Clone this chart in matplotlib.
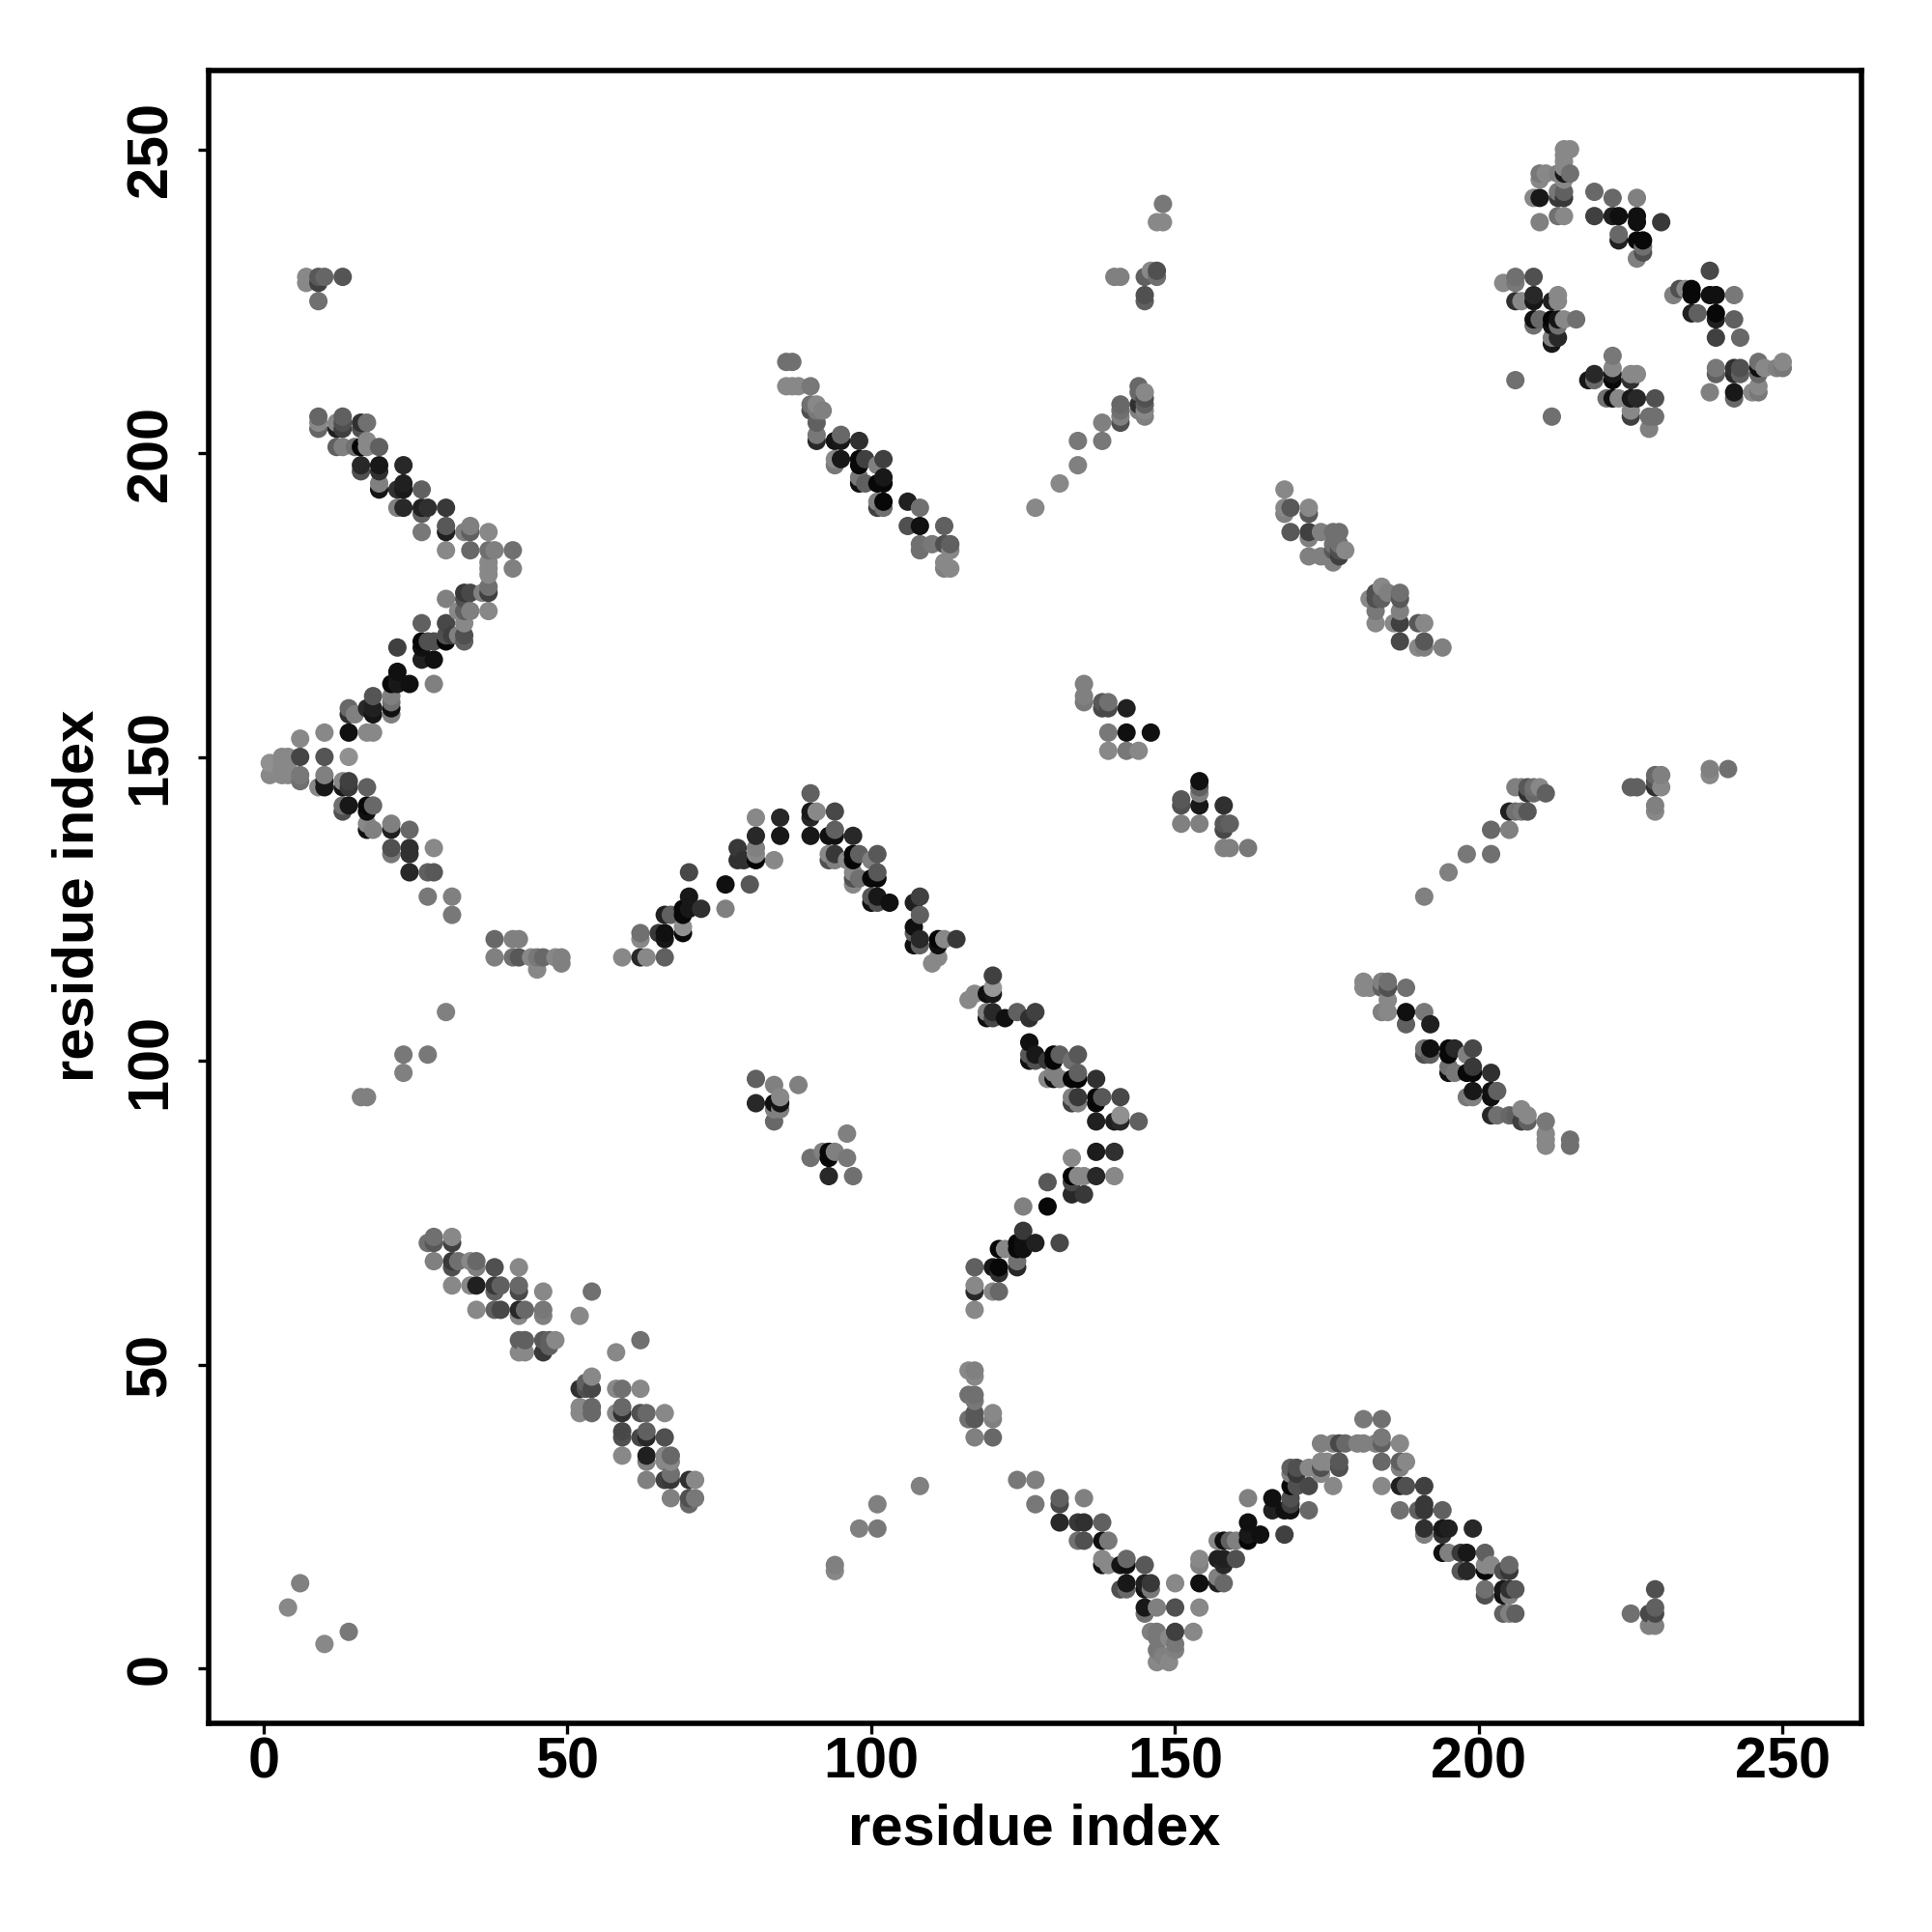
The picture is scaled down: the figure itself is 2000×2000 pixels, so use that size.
# -*- coding: utf-8 -*-
"""
Residue contact map, points shaded by contact strength
"""
import numpy as np
import matplotlib
matplotlib.use("Agg")
import matplotlib.pyplot as plt

# (residue i, residue j, grey level 0-255)
top_left = [
    (7,229,0x88),(7,228,0x88),(9,228,0x40),(9,229,0x58),(10,229,0x66),(13,229,0x55),(9,225,0x70),
    (9,206,0x66),(9,205,0x88),(9,204,0x66),(12,205,0x88),(12,204,0x20),(13,206,0x60),(13,205,0x50),(13,204,0x40),
    (16,205,0x30),(16,204,0x50),(17,205,0x70),(12,201,0x60),(13,201,0x80),(15,201,0x70),(16,201,0x05),
    (17,202,0x88),(17,201,0x88),(19,201,0x60),(16,198,0x28),(16,197,0x50),(19,198,0x18),(19,197,0x30),(23,198,0x28),
    (19,195,0x80),(19,194,0x15),(23,195,0x20),(23,194,0x1a),(22,194,0x30),(26,194,0x60),
    (22,191,0x80),(23,191,0x28),(26,191,0x20),(27,191,0x30),(26,190,0x60),(30,191,0x38),
    (26,187,0x78),(30,188,0x58),(30,187,0x20),(30,184,0x88),(33,187,0x80),(34,188,0x80),(34,187,0x60),(37,187,0x88),
    (34,184,0x68),(37,184,0x70),(38,184,0x80),(41,184,0x70),(41,181,0x80),(37,182,0x88),(37,181,0x88),(37,180,0x88),
    (37,178,0x70),(37,177,0x40),(37,174,0x88),(30,176,0x80),(33,177,0x38),(34,177,0x48),(33,176,0x50),(36,177,0x80),
    (34,174,0x80),(33,174,0x60),(32,174,0x88),
]
left_arm = [
    (26,172,0x60),(30,172,0x48),(33,172,0x88),(33,170,0x50),(30,170,0x50),(31,170,0x40),(33,169,0x60),(30,169,0x05),(32,170,0x80),
    (26,169,0x08),(26,168,0x10),(27,169,0x50),(28,169,0x50),(22,168,0x40),(26,166,0x20),(28,166,0x10),
    (22,164,0x10),(22,163,0x18),(21,162,0x08),(22,162,0x18),(24,162,0x10),(28,162,0x80),
    (18,160,0x55),(21,160,0x80),(21,159,0x70),(21,158,0x10),(21,157,0x80),(14,158,0x68),(14,157,0x30),(15,157,0x80),
    (17,158,0x28),(18,158,0x20),(18,157,0x15),(14,154,0x10),(10,154,0x88),(6,153,0x88),(17,154,0x88),(18,154,0x88),
    (6,150,0x45),(10,150,0x55),(14,150,0x90),(1,149,0x90),(1,147,0x88),(3,150,0x88),(4,150,0x88),(3,147,0x88),(4,147,0x88),
    (3,149,0x88),(4,149,0x88),(3,148,0x88),(4,148,0x88),(6,147,0x78),(6,146,0x70),
    (10,147,0x80),(10,146,0x18),(10,145,0x18),(9,145,0x88),(13,146,0x88),(14,146,0x40),(14,145,0x38),(13,145,0x18),(17,145,0x60),
    (13,142,0x70),(14,142,0x18),(13,141,0x50),(17,142,0x08),(18,142,0x68),(17,141,0x10),
    (17,139,0x88),(17,138,0x10),(18,138,0x80),(21,139,0x80),(21,138,0x20),(24,138,0x68),
    (21,135,0x50),(21,134,0x78),(24,135,0x30),(24,134,0x30),(28,135,0x88),(24,131,0x28),(27,131,0x60),(28,131,0x58),
    (27,127,0x78),(31,127,0x80),(31,124,0x78),
    (38,120,0x68),(41,120,0x80),(42,120,0x80),(38,117,0x80),(41,117,0x70),(42,117,0x58),(44,117,0x88),(45,117,0x78),(46,117,0x68),
    (45,115,0x88),(48,117,0x88),(49,117,0x80),(49,116,0x80),
    (30,108,0x80),(27,101,0x78),(23,101,0x78),(23,98,0x80),(16,94,0x80),(17,94,0x80),
]
corner_points = [(4,10,0x88),(6,14,0x80),(10,4,0x88),(14,6,0x78)]
peak_left = [
    (59,117,0x88),(62,117,0x28),(63,117,0x88),(66,117,0x60),(62,121,0x70),(62,120,0x88),(65,121,0x38),(66,121,0x10),(66,120,0x18),
    (69,121,0x08),(69,122,0x90),(66,124,0x20),(67,124,0x60),(69,125,0x08),(69,124,0x08),(70,125,0x18),(70,127,0x18),(72,125,0x30),
    (70,131,0x48),(76,129,0x10),(80,129,0x58),(76,125,0x80),(78,135,0x38),(78,133,0x30),(79,133,0x30),(81,133,0x05),(81,134,0x88),
    (81,135,0x80),(81,137,0x28),(81,140,0x88),(84,133,0x88),(85,137,0x18),(85,140,0x28),
]
peak_right = [
    (90,144,0x60),(90,141,0x18),(90,140,0x28),(91,141,0x88),(90,137,0x18),(94,141,0x48),(93,137,0x10),(94,137,0x10),(94,138,0x60),(97,137,0x28),
    (93,134,0x88),(93,133,0x50),(94,134,0x38),(94,133,0x80),(97,134,0x08),(97,133,0x05),(98,134,0x60),(96,133,0x88),(101,134,0x58),(100,133,0x80),
    (97,131,0x88),(97,130,0x50),(97,129,0x88),(98,130,0x70),(100,130,0x08),(101,131,0x58),(101,130,0x08),
    (100,127,0x58),(100,126,0x10),(101,127,0x18),(101,126,0x50),(103,126,0x10),
    (107,126,0x20),(108,127,0x40),(108,124,0x60),(107,122,0x10),(107,121,0x60),(107,119,0x10),(108,120,0x28),(108,119,0x60),
    (111,120,0x05),(111,119,0x10),(112,120,0x88),(114,120,0x38),(111,117,0x88),(110,116,0x88),
]
small_cluster = [
    (81,97,0x60),(84,96,0x80),(88,96,0x80),(81,93,0x28),(84,93,0x10),(85,93,0x15),(85,94,0x88),(84,92,0x80),(85,92,0x80),(84,90,0x68),
    (96,88,0x80),(90,84,0x70),(92,85,0x80),(93,85,0x08),(93,84,0x08),(94,85,0x80),(96,84,0x78),(93,81,0x28),(97,81,0x70),
]
middle_down = [
    (120,114,0x40),(120,112,0x98),(119,111,0x10),(120,111,0x18),(117,111,0x88),(116,110,0x88),
    (119,108,0x80),(120,108,0x28),(119,107,0x10),(120,107,0x48),(122,107,0x10),(124,108,0x60),(126,107,0x30),(127,108,0x40),
    (126,103,0x10),(126,100,0x10),(126,101,0x58),(127,101,0x18),(127,100,0x50),(129,100,0x38),(130,101,0x05),(130,100,0x05),
    (131,101,0x60),(134,101,0x58),(133,100,0x70),(129,97,0x88),(130,97,0x10),(130,98,0x80),(131,97,0x80),
    (133,97,0x05),(134,97,0x05),(134,98,0x60),(137,97,0x30),(133,94,0x80),(133,93,0x40),(134,94,0x38),(134,93,0x80),
    (137,94,0x08),(137,93,0x08),(138,94,0x58),(141,94,0x48),(137,90,0x20),(140,90,0x20),(141,90,0x28),(141,91,0x90),(144,90,0x60),
]
middle_up = [
    (137,85,0x1c),(140,85,0x30),(133,84,0x88),(133,81,0x02),(134,81,0x88),(135,81,0x88),(137,81,0x28),(140,81,0x88),(133,80,0x48),
    (133,78,0x28),(135,78,0x38),(129,80,0x58),(129,76,0x08),(125,76,0x80),(125,72,0x38),(125,70,0x10),(124,70,0x08),(124,69,0x08),
    (125,69,0x10),(127,70,0x20),(131,70,0x48),(121,69,0x08),(122,69,0x88),(117,66,0x60),(120,66,0x18),(121,66,0x08),(121,65,0x30),
    (124,67,0x70),(124,66,0x28),(117,63,0x88),(117,62,0x28),(120,62,0x88),(121,62,0x68),(117,59,0x88),
]
lower_left = [
    (27,70,0x70),(28,71,0x70),(28,70,0x58),(31,71,0x88),(31,70,0x40),(28,67,0x80),(31,67,0x38),(31,66,0x50),(32,67,0x70),(34,67,0x88),
    (35,67,0x68),(35,66,0x80),(38,66,0x50),(42,66,0x88),(31,63,0x88),(34,63,0x88),(35,63,0x20),(38,63,0x38),(38,62,0x60),(39,63,0x60),
    (42,63,0x68),(42,62,0x48),(46,62,0x88),(54,62,0x70),(35,59,0x88),(38,59,0x60),(39,59,0x48),(42,59,0x28),(42,58,0x88),(43,59,0x68),
    (46,59,0x78),(46,58,0x80),(52,58,0x88),(42,54,0x60),(43,54,0x60),(42,52,0x88),(43,52,0x88),(46,54,0x58),(47,54,0x60),(46,52,0x38),
    (47,53,0x60),(48,54,0x88),(62,54,0x70),(58,52,0x88),(52,46,0x30),(53,46,0x50),(54,48,0x88),(54,46,0x48),(53,47,0x60),(52,42,0x88),
    (52,43,0x88),(54,43,0x68),(54,42,0x68),(58,46,0x88),(59,46,0x70),(62,46,0x88),(58,42,0x88),(59,43,0x68),(59,42,0x30),(62,42,0x50),
    (63,42,0x68),(66,42,0x88),(59,39,0x48),(59,38,0x50),(62,38,0x48),(63,39,0x60),(63,38,0x28),(66,38,0x50),(59,35,0x88),(63,35,0x20),
    (63,34,0x80),(66,35,0x88),(66,34,0x88),(67,35,0x68),(67,34,0x88),(63,31,0x80),(66,31,0x40),(67,32,0x70),(67,31,0x38),(70,31,0x30),
    (71,31,0x88),(67,28,0x80),(70,28,0x50),(71,28,0x78),(70,27,0x68),
]
bottom_sparse = [(94,17,0x80),(94,16,0x88),(98,23,0x80),(101,23,0x78),(101,27,0x80),(108,30,0x80)]
bottom_valley = [
    (116,49,0x88),(117,49,0x80),(117,48,0x88),(116,45,0x70),(117,45,0x70),(117,44,0x78),(117,42,0x58),(117,41,0x58),(116,41,0x70),
    (120,42,0x88),(120,41,0x80),(117,38,0x80),(120,38,0x68),(124,31,0x78),(127,31,0x80),(127,27,0x78),(131,28,0x60),(131,27,0x48),(135,28,0x80),
    (131,24,0x28),(134,24,0x38),(135,24,0x30),(138,24,0x60),(134,21,0x70),(135,21,0x50),(138,21,0x10),(139,21,0x78),
    (138,18,0x88),(138,17,0x10),(139,17,0x88),(141,17,0x15),(142,18,0x68),(142,17,0x10),(145,17,0x58),
    (141,13,0x50),(142,14,0x18),(142,13,0x68),(145,14,0x20),(146,14,0x38),(145,13,0x10),(146,13,0x78),(150,14,0x88),
    (145,10,0x18),(147,10,0x80),(145,9,0x70),(150,10,0x50),(154,10,0x88),(146,6,0x80),(147,6,0x78),(149,5,0x88),(150,6,0x40),(153,6,0x88),
    (147,5,0x78),(147,3,0x78),(150,4,0x78),(150,3,0x80),(147,1,0x88),(149,1,0x88),(148,2,0x80),
    (154,18,0x88),(154,17,0x80),(154,14,0x10),(157,18,0x20),(158,18,0x20),(158,17,0x28),(160,18,0x50),(157,15,0x80),(157,14,0x20),(158,14,0x68),
    (157,21,0x88),(158,21,0x10),(159,21,0x60),(160,21,0x80),(162,21,0x05),(162,22,0x18),(164,22,0x10),(162,24,0x10),(162,28,0x80),(168,22,0x40),
    (166,28,0x10),(166,26,0x20),(168,26,0x10),(169,26,0x10),(169,27,0x40),(169,28,0x50),(172,26,0x68),(169,30,0x08),(170,30,0x50),(172,30,0x48),(176,30,0x88),
    (169,33,0x60),(170,33,0x50),(169,32,0x80),(170,32,0x38),(172,33,0x88),(174,34,0x88),(174,33,0x50),(177,34,0x58),(177,33,0x50),(175,34,0x88),(174,32,0x88),
    (174,37,0x80),(176,37,0x80),(177,37,0x48),(178,37,0x68),
]
bottom_right = [
    (180,37,0x80),(181,37,0x80),(183,37,0x80),(184,37,0x60),(184,38,0x78),(181,41,0x78),(184,41,0x70),(187,37,0x88),
    (184,34,0x68),(187,34,0x60),(188,34,0x88),(187,33,0x80),(184,30,0x88),(187,30,0x20),(188,30,0x50),(191,30,0x40),
    (187,26,0x70),(190,26,0x60),(191,27,0x38),(191,26,0x38),(194,26,0x60),(191,23,0x30),(191,22,0x80),(194,23,0x18),(194,22,0x30),(195,23,0x20),(199,23,0x28),
    (194,19,0x10),(195,19,0x80),(197,19,0x38),(198,19,0x18),(201,19,0x60),(197,16,0x58),(198,16,0x28),(201,17,0x88),(201,16,0x08),(202,17,0x88),
    (204,16,0x50),(205,17,0x68),(205,16,0x38),(201,13,0x70),(201,12,0x50),(204,13,0x18),(204,12,0x10),(205,12,0x80),(205,13,0x30),(206,13,0x58),
    (204,9,0x60),(205,9,0x80),(206,9,0x60),(225,9,0x70),(228,9,0x48),(229,13,0x50),(229,10,0x60),(229,9,0x48),(228,7,0x80),(229,7,0x80),
]
top_right = [
    (214,250,0x88),(215,250,0x88),(214,249,0x88),(214,248,0x88),(210,246,0x78),(211,246,0x88),(210,245,0x88),(213,246,0x80),(214,247,0x88),(214,246,0x18),
    (215,246,0x70),(214,245,0x88),(209,242,0x88),(210,242,0x18),(213,243,0x78),(214,243,0x60),(213,242,0x38),(214,242,0x38),(210,238,0x80),(213,239,0x70),(214,239,0x88),
    (219,243,0x68),(222,242,0x68),(226,242,0x80),(219,239,0x40),(222,239,0x20),(223,239,0x10),(226,239,0x10),(226,238,0x10),(230,238,0x38),
    (223,236,0x68),(223,235,0x20),(226,235,0x08),(227,235,0x08),(227,234,0x70),(227,233,0x50),(226,232,0x80),
    (238,230,0x48),(232,226,0x80),(233,227,0x50),(234,227,0x88),(235,227,0x08),(235,226,0x08),(238,226,0x10),(239,226,0x10),(242,226,0x78),
    (235,223,0x20),(236,223,0x60),(239,223,0x08),(239,222,0x20),(242,222,0x60),(239,219,0x40),(243,219,0x68),
    (239,214,0x78),(239,213,0x60),(242,214,0x30),(243,214,0x50),(242,213,0x28),(243,213,0x60),(246,215,0x70),(246,214,0x10),(247,214,0x88),(246,213,0x68),
    (249,214,0x80),(250,215,0x88),(250,214,0x78),(238,210,0x80),(242,210,0x18),(242,209,0x68),(245,210,0x88),(246,210,0x78),(246,211,0x88),
    (204,228,0x88),(206,229,0x70),(206,228,0x78),(209,229,0x50),(206,225,0x30),(207,225,0x88),(209,226,0x28),(209,225,0x18),(212,225,0x20),(213,226,0x88),(213,225,0x88),
    (209,222,0x10),(209,221,0x70),(210,222,0x68),(212,222,0x05),(212,221,0x10),(213,222,0x15),(213,221,0x70),(214,222,0x88),(216,222,0x70),(212,219,0x80),(212,218,0x18),(213,219,0x28),
    (206,212,0x70),(212,206,0x70),(218,212,0x18),(219,213,0x28),(219,212,0x68),(222,216,0x78),(222,214,0x88),(222,213,0x18),(222,212,0x08),(225,213,0x88),(226,213,0x88),(225,212,0x30),
    (221,209,0x70),(222,209,0x10),(223,209,0x88),(225,209,0x18),(226,209,0x28),(229,209,0x50),(225,207,0x88),(225,206,0x40),(228,206,0x70),(229,206,0x70),(228,204,0x80),
]
upper_mid_left = [
    (86,215,0x70),(87,215,0x70),(86,211,0x88),(87,211,0x88),(88,211,0x88),(90,211,0x78),(90,208,0x70),(90,207,0x50),(91,208,0x88),(91,207,0x78),(92,207,0x80),
    (91,205,0x60),(91,203,0x78),(91,202,0x28),(94,202,0x15),(95,202,0x18),(95,203,0x68),(98,202,0x30),(94,199,0x88),(94,198,0x78),(95,199,0x18),
    (98,199,0x08),(98,198,0x08),(99,199,0x40),(101,198,0x80),(102,199,0x40),(98,196,0x78),(98,195,0x10),(99,195,0x60),(101,195,0x08),(102,196,0x18),(102,195,0x08),
    (101,192,0x80),(101,191,0x40),(102,192,0x08),(102,191,0x70),(106,192,0x20),(108,191,0x70),(106,188,0x50),(108,188,0x10),(112,188,0x60),
    (108,185,0x70),(108,184,0x70),(110,185,0x78),(112,185,0x50),(113,185,0x60),(113,184,0x88),(112,181,0x80),(113,181,0x88),(112,182,0x88),
]
upper_mid_right = [
    (127,191,0x88),(131,195,0x88),(134,198,0x80),(134,202,0x78),(138,205,0x80),(138,202,0x78),(141,208,0x68),(141,207,0x70),(141,206,0x80),(141,205,0x50),
    (144,211,0x68),(144,210,0x68),(144,208,0x30),(144,207,0x80),(145,210,0x88),(145,209,0x50),(145,208,0x60),(145,207,0x88),(145,206,0x80),
    (140,229,0x80),(141,229,0x80),(145,229,0x60),(146,230,0x88),(147,230,0x50),(147,229,0x70),(145,226,0x50),(145,225,0x60),(147,238,0x88),(148,238,0x88),(148,241,0x78),
]
center_right = [
    (135,162,0x80),(135,160,0x80),(135,159,0x78),(138,159,0x58),(138,158,0x48),(139,158,0x48),(139,159,0x70),(142,158,0x20),(139,154,0x78),(139,151,0x88),
    (142,154,0x10),(142,151,0x78),(144,151,0x88),(146,154,0x10),
    (151,143,0x58),(151,142,0x50),(154,146,0x10),(154,145,0x60),(154,144,0x80),(154,142,0x18),(151,139,0x80),(154,139,0x80),
    (158,142,0x30),(158,139,0x58),(158,138,0x48),(159,139,0x60),(158,135,0x80),(159,135,0x80),(162,135,0x78),
]
upper_band = [
    (168,194,0x88),(168,191,0x88),(168,190,0x80),(169,191,0x58),(172,191,0x88),(172,190,0x58),(169,187,0x58),(172,187,0x40),(172,186,0x80),(174,187,0x80),
    (176,187,0x70),(177,187,0x70),(176,185,0x70),(176,184,0x58),(177,184,0x50),(178,184,0x88),(177,185,0x70),(172,183,0x80),(174,183,0x80),(175,183,0x80),(176,182,0x80),(177,183,0x40),
    (182,176,0x88),(183,177,0x50),(183,176,0x50),(184,178,0x88),(184,176,0x60),(185,177,0x80),(187,177,0x70),(187,176,0x58),(183,174,0x78),(183,172,0x88),(186,172,0x88),(187,174,0x80),(187,172,0x40),
    (190,172,0x58),(191,172,0x88),(187,169,0x48),(190,168,0x88),(191,169,0x58),(191,168,0x80),(194,168,0x80),
]
right_rise = [
    (206,145,0x80),(207,145,0x80),(208,145,0x58),(208,144,0x30),(209,145,0x70),(210,145,0x88),(209,144,0x68),(211,144,0x60),
    (205,141,0x20),(206,141,0x70),(207,141,0x78),(208,141,0x58),(202,138,0x68),(205,138,0x80),(198,134,0x78),(202,134,0x70),(191,127,0x80),(195,131,0x80),
    (225,145,0x60),(226,145,0x60),(229,147,0x68),(230,147,0x80),(229,146,0x50),(230,145,0x88),(229,145,0x30),(229,142,0x80),(229,141,0x88),(238,148,0x80),(238,147,0x88),(241,148,0x70),
]
right_band = [
    (181,113,0x88),(181,112,0x88),(182,112,0x88),(184,113,0x80),(184,112,0x60),(185,113,0x70),(185,112,0x50),(188,112,0x70),
    (185,110,0x88),(184,108,0x80),(185,108,0x88),(188,108,0x10),(188,106,0x60),(191,108,0x78),(192,106,0x20),
    (191,102,0x70),(191,101,0x50),(192,102,0x10),(192,101,0x60),(195,102,0x08),(195,101,0x08),(196,102,0x28),(198,101,0x80),(199,102,0x48),
    (195,98,0x10),(195,99,0x70),(196,98,0x78),(198,98,0x08),(199,98,0x08),(199,99,0x38),(202,98,0x30),(198,94,0x78),(199,95,0x18),(199,94,0x80),
    (202,95,0x10),(202,94,0x10),(203,95,0x60),(202,91,0x28),(203,91,0x70),(205,91,0x68),(206,91,0x60),(207,92,0x88),(207,90,0x40),(208,91,0x88),(208,90,0x60),
    (211,90,0x78),(211,88,0x88),(211,87,0x88),(211,86,0x88),(215,87,0x70),(215,86,0x70),
]
tick_values = [0, 50, 100, 150, 200, 250]

plt.rcParams['font.family'] = ['Liberation Sans', 'DejaVu Sans']

groups = [top_left, left_arm, corner_points, peak_left, peak_right, small_cluster, middle_down, middle_up,
          lower_left, bottom_sparse, bottom_valley, bottom_right, top_right, upper_mid_left, upper_mid_right,
          center_right, upper_band, right_rise, right_band]
points = np.array([p for g in groups for p in g], dtype=float)
# drawn by x then y, later points sit on top
points = points[np.lexsort((points[:, 1], points[:, 0]))]

fig = plt.figure(figsize=(10, 10), dpi=200)
ax = fig.add_axes([216/2000, 1 - 1784/2000, (1927-216)/2000, (1784-73)/2000])
ax.scatter(points[:, 0], points[:, 1], c=points[:, 2]/255, cmap='gray', vmin=0, vmax=1, s=47, linewidths=0)
ax.set_xlim(-9.06, 262.96)
ax.set_ylim(-9.06, 262.96)
ax.set_xticks(tick_values)
ax.set_yticks(tick_values)
ax.tick_params(axis='x', length=4.0, width=1.2, pad=1.0, labelsize=21.4)
ax.tick_params(axis='y', length=4.0, width=1.2, pad=7.5, labelsize=21.4)
for lab in ax.get_xticklabels() + ax.get_yticklabels():
    lab.set_fontweight('bold')
for lab in ax.get_yticklabels():
    lab.set_rotation(90)
    lab.set_va('center')
for s in ax.spines.values():
    s.set_linewidth(2.0)
fig.text(1071/2000, 1 - 1894/2000, 'residue index', fontsize=21.5, fontweight='bold', ha='center', va='center')
fig.text(81/2000, 1 - 927/2000, 'residue index', fontsize=21.5, fontweight='bold', ha='center', va='center', rotation=90)
fig.savefig('out.png', dpi=200)
